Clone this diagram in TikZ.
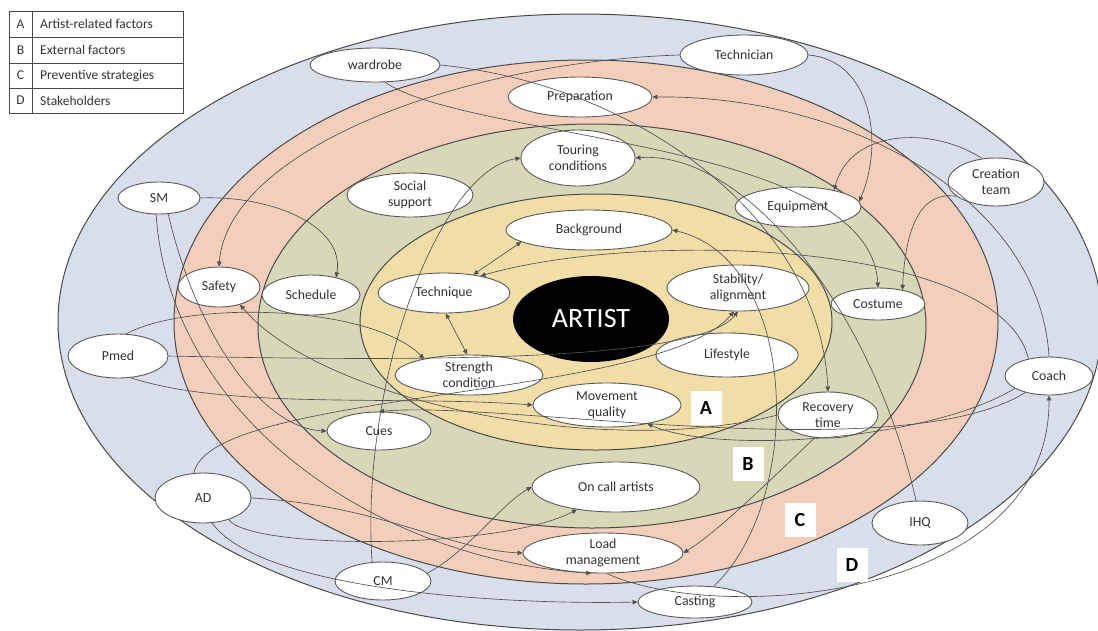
\documentclass[tikz,border=0pt]{standalone}
\usepackage{fontspec}
\setmainfont{Carlito}
\usetikzlibrary{shapes.geometric,arrows.meta}
\definecolor{ringD}{HTML}{D8DEEA}
\definecolor{ringC}{HTML}{F3CFBB}
\definecolor{ringB}{HTML}{D8D7B8}
\definecolor{ringA}{HTML}{F1DEA6}
\definecolor{edgec}{HTML}{4A4A4A}
\definecolor{nodeb}{HTML}{5A5A5A}
\definecolor{linec}{HTML}{505050}
\definecolor{txtc}{HTML}{333333}
\begin{document}
\begin{tikzpicture}[x=1pt,y=-1pt,
  ring/.style={draw=edgec, line width=1pt},
  ell/.style={ellipse, draw=nodeb, fill=white, line width=0.9pt, inner xsep=-5pt, inner ysep=-9pt,
    align=center, text=txtc, font=\fontsize{13.8}{16.5}\selectfont},
  es/.style 2 args={minimum width=#1pt, minimum height=#2pt},
  conn/.style={draw=linec, line width=0.65pt, -{Triangle[length=5pt,width=4.5pt]}},
  conn2/.style={draw=linec, line width=0.65pt, {Triangle[length=5pt,width=4.5pt]}-{Triangle[length=5pt,width=4.5pt]}},
  lbox/.style={fill=white, minimum width=31pt, minimum height=34pt, inner sep=0pt,
    font=\bfseries\fontsize{20}{20}\selectfont},
  legl/.style={inner sep=0pt, text=txtc, font=\fontsize{13.5}{15}\selectfont},
  legline/.style={draw=edgec, line width=0.9pt}
]
\useasboundingbox (0,0) rectangle (1098,630);

% rings
\filldraw[ring, fill=ringD] (580,322) ellipse [x radius=522pt, y radius=308pt];
\filldraw[ring, fill=ringC] (586,322) ellipse [x radius=412pt, y radius=262pt];
\filldraw[ring, fill=ringB] (592,326) ellipse [x radius=334pt, y radius=202pt];
\filldraw[ring, fill=ringA] (596,322) ellipse [x radius=236pt, y radius=128pt];

% legend
\draw[legline] (9,11) rectangle (183,113);
\draw[legline] (9,37) -- (183,37) (9,63) -- (183,63) (9,88) -- (183,88) (32,11) -- (32,113);
\node[legl] (lgA) at (20.5,24) {A};
\node[legl] (lgB) at (20.5,50) {B};
\node[legl] (lgC) at (20.5,75.5) {C};
\node[legl] (lgD) at (20.5,100.5) {D};
\node[legl, anchor=west] (lgAt) at (40,24) {Artist-related factors};
\node[legl, anchor=west] (lgBt) at (40,50) {External factors};
\node[legl, anchor=west] (lgCt) at (40,75.5) {Preventive strategies};
\node[legl, anchor=west] (lgDt) at (40,100.5) {Stakeholders};

% artist
\node[ellipse, fill=black, minimum width=156pt, minimum height=86pt, inner sep=0pt, text=white,
  font=\fontsize{28}{30}\selectfont] (artist) at (591,319) {ARTIST};

% nodes
\node[ell, es={130}{34}] (wardrobe) at (375,65) {wardrobe};
\node[ell, es={128}{40}] (techn) at (744,55) {Technician};
\node[ell, es={144}{40}] (prep) at (580,97) {Preparation};
\node[ell, es={114}{56}] (tour) at (578,158) {Touring\\conditions};
\node[ell, es={126}{44}] (social) at (410,195) {Social\\support};
\node[ell, es={96}{48}] (creation) at (996,182) {Creation\\team};
\node[ell, es={82}{32}] (sm) at (159,198) {SM};
\node[ell, es={126}{40}] (equip) at (798,207) {Equipment};
\node[ell, es={166}{40}] (backg) at (589,230) {Background};
\node[ell, es={82}{40}] (safety) at (219,287) {Safety};
\node[ell, es={98}{40}] (sched) at (311,295) {Schedule};
\node[ell, es={132}{40}] (techq) at (444,293) {Technique};
\node[ell, es={142}{46}] (stab) at (738,288) {Stability/\\alignment};
\node[ell, es={94}{32}] (costume) at (878,304) {Costume};
\node[ell, es={100}{44}] (pmed) at (118,356) {Pmed};
\node[ell, es={148}{40}] (strength) at (469,375) {Strength\\condition};
\node[ell, es={142}{44}] (life) at (727,355) {Lifestyle};
\node[ell, es={148}{44}] (move) at (607,405) {Movement\\quality};
\node[ell, es={88}{38}] (coach) at (1049,376) {Coach};
\node[ell, es={100}{46}] (recov) at (828,415) {Recovery\\time};
\node[ell, es={104}{38}] (cues) at (379,431) {Cues};
\node[ell, es={168}{50}] (oncall) at (616,487) {On call artists};
\node[ell, es={96}{50}] (ad) at (203,498) {AD};
\node[ell, es={96}{44}] (ihq) at (920,523) {IHQ};
\node[ell, es={160}{40}] (load) at (603,553) {Load\\management};
\node[ell, es={96}{38}] (cm) at (383,581) {CM};
\node[ell, es={114}{32}] (cast) at (695,602) {Casting};

% connectors
\draw[conn] (sm.east) .. controls (270,195) and (345,225) .. (sched.35);
\draw[conn] (sm.-60) .. controls (195,330) and (260,428) .. (cues.west);
\draw[conn] (sm.-100) .. controls (170,420) and (380,560) .. (load.240);
\draw[conn] (techn.west) .. controls (460,62) and (228,150) .. (safety.north);
\draw[conn] (techn.east) .. controls (870,60) and (885,140) .. (equip.5);
\draw[conn] (creation.120) .. controls (930,125) and (850,130) .. (equip.25);
\draw[conn] (creation.200) .. controls (915,190) and (905,240) .. (costume.30);
\draw[conn] (wardrobe.-60) .. controls (470,140) and (870,140) .. (costume.north);
\draw[conn] (wardrobe.east) .. controls (640,85) and (820,220) .. (recov.north);
\draw[conn] (coach.north) .. controls (1040,200) and (850,95) .. (prep.east);
\draw[conn] (coach.140) .. controls (1000,240) and (640,230) .. (techq.25);
\draw[conn] (coach.200) .. controls (930,440) and (720,455) .. (move.-25);
\draw[conn] (coach.215) .. controls (900,470) and (500,400) .. (cues.north);
\draw[conn2] (techq.32) -- (backg.-170);
\draw[conn2] (techq.-85) -- (strength.95);
\draw[conn] (pmed.70) .. controls (190,300) and (370,305) .. (strength.160);
\draw[conn] (pmed.east) .. controls (450,362) and (700,360) .. (stab.-90);
\draw[conn] (pmed.-60) .. controls (230,410) and (400,395) .. (move.west);
\draw[conn] (ad.110) .. controls (210,390) and (660,400) .. (stab.-100);
\draw[conn] (ad.east) .. controls (380,505) and (450,550) .. (load.west);
\draw[conn] (ad.-40) .. controls (250,550) and (500,550) .. (oncall.-150);
\draw[conn] (ad.-70) .. controls (260,590) and (500,605) .. (cast.west);
\draw[conn] (cm.10) .. controls (470,550) and (500,505) .. (oncall.west);
\draw[conn] (cm.120) .. controls (360,380) and (440,170) .. (tour.west);
\draw[conn] (ihq.100) .. controls (870,300) and (740,150) .. (tour.east);
\draw[conn] (recov.-120) .. controls (770,480) and (720,530) .. (load.east);
\draw[conn] (cast.40) .. controls (805,500) and (800,260) .. (backg.east);
\draw[conn] (load.-80) .. controls (720,625) and (1050,600) .. (coach.south);
\draw[conn] (recov.west) .. controls (600,460) and (320,400) .. (safety.-40);

% letter boxes
\node[lbox] (bA) at (706,408) {A};
\node[lbox] (bB) at (748,464) {B};
\node[lbox] (bC) at (800,520) {C};
\node[lbox] (bD) at (852,565) {D};
\end{tikzpicture}
\end{document}
